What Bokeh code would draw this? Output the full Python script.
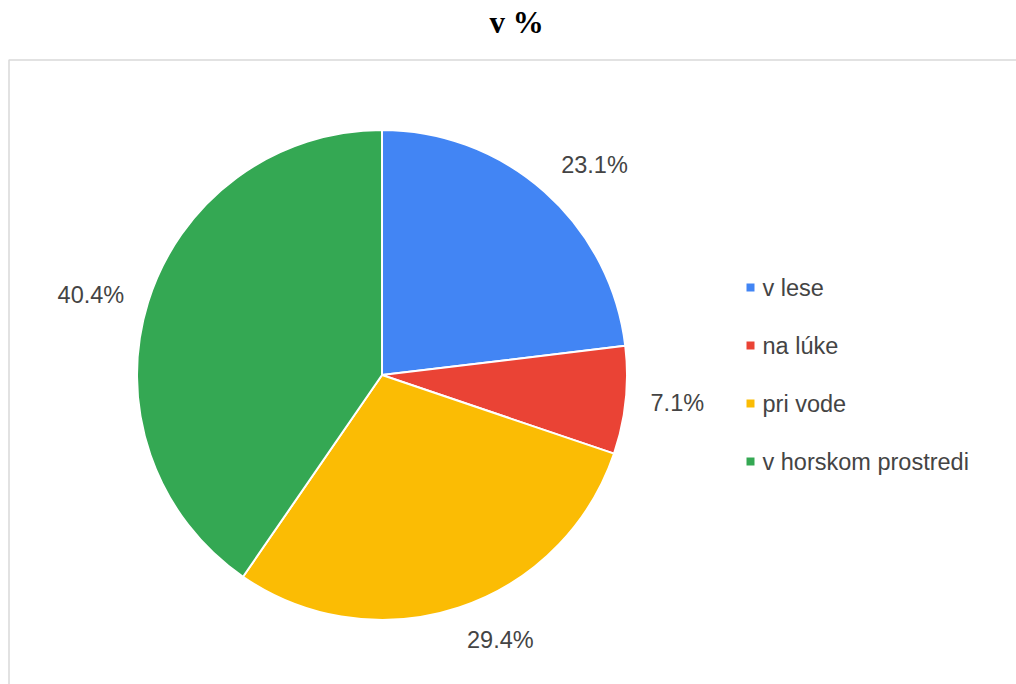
import math
from bokeh.plotting import figure
from bokeh.models import Range1d, BoxAnnotation, ColumnDataSource
from bokeh.core.properties import value
from bokeh.embed import file_html
from bokeh.resources import INLINE

# ---- data ----
categories = ["v lese", "na lúke", "pri vode", "v horskom prostredi"]
shares = [23.1, 7.1, 29.4, 40.4]
colors = ["#4285F4", "#EA4335", "#FBBC04", "#34A853"]
title_text = "v %"

W, H = 1016, 684
cx, cy, R = 381.5, H - 374.5, 245.0
FS = 23.5

total = sum(shares)
starts, ends, lx, ly, labels = [], [], [], [], []
cum = 0.0
for s in shares:
    a0 = cum / total * 2 * math.pi
    a1 = (cum + s) / total * 2 * math.pi
    starts.append(math.pi / 2 - a1)
    ends.append(math.pi / 2 - a0)
    mid = (a0 + a1) / 2
    lab = f"{s:.1f}%"
    labels.append(lab)
    # estimated text box (Arial metrics)
    w = (0.556 * sum(ch.isdigit() for ch in lab) + 0.278 + 0.889) * FS
    h = 0.716 * FS
    d = R + 25
    sn, cs = math.sin(mid), math.cos(mid)
    ax, ay = cx + d * sn, cy + d * cs
    ox = w / 2 if sn > 0.05 else (-w / 2 if sn < -0.05 else 0)
    oy = h / 2 if cs > 0.3 else (-h / 2 if cs < -0.3 else 0)
    lx.append(ax + ox)
    ly.append(ay + oy)
    cum += s

p = figure(width=W, height=H, x_range=Range1d(0, W), y_range=Range1d(0, H),
           x_axis_type=None, y_axis_type=None, toolbar_location=None,
           output_backend="svg", min_border=0)
p.outline_line_color = None
p.grid.visible = False
p.background_fill_color = "white"
p.border_fill_color = "white"

# chart area border
p.add_layout(BoxAnnotation(left=8.5, right=W + 10, top=H - 59.5, bottom=-10,
                           fill_alpha=0, line_color="#d9d9d9", line_alpha=1.0,
                           line_width=1.5))

src = ColumnDataSource(dict(start=starts, end=ends, color=colors, cat=categories))
p.wedge(x=cx, y=cy, radius=R, start_angle="start", end_angle="end",
        fill_color="color", line_color="white", line_width=2, source=src)

p.text(x=lx, y=ly, text=labels, text_font=value("Liberation Sans"),
       text_font_size=f"{FS}px", text_color="#444444",
       text_align="center", text_baseline="middle")

# legend
leg_y = [H - (287 + 58 * i) for i in range(len(categories))]
p.scatter(x=[750] * len(categories), y=leg_y, marker="square", size=8,
          fill_color=colors, line_color=None)
p.text(x=[762] * len(categories), y=leg_y, text=categories,
       text_font=value("Liberation Sans"), text_font_size=f"{FS}px",
       text_color="#444444", text_align="left", text_baseline="middle")

# title
p.text(x=[W / 2 + 8], y=[H - 22], text=[title_text], text_font=value("Liberation Serif"),
       text_font_size="31px", text_font_style="bold", text_color="#000000",
       text_align="center", text_baseline="middle")

open("out.html", "w").write(file_html(p, INLINE))
